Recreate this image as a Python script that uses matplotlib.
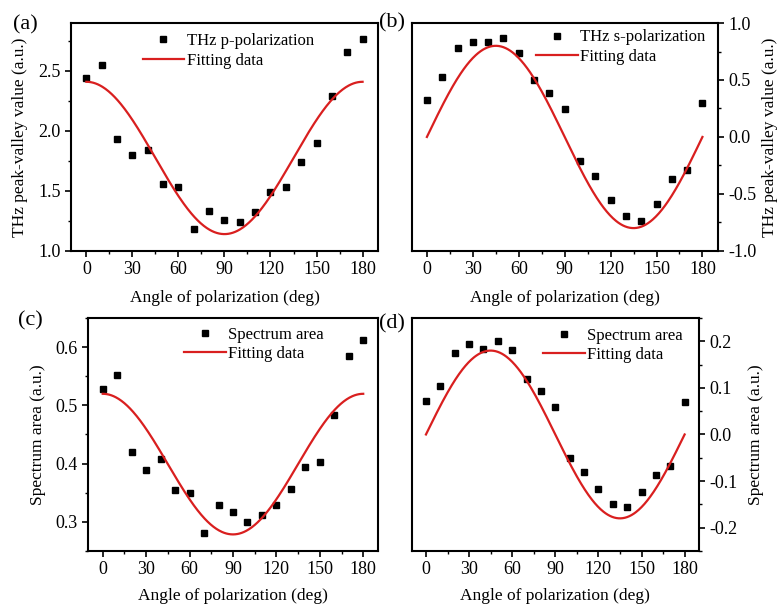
import numpy as np
import matplotlib
matplotlib.use("Agg")
import matplotlib.pyplot as plt
from matplotlib.ticker import MultipleLocator

plt.rcParams['font.family'] = ['Liberation Serif', 'DejaVu Serif']
plt.rcParams['font.size'] = 12
plt.rcParams['axes.unicode_minus'] = False

# polarization angles (deg)
angle = [0, 10, 20, 30, 40, 50, 60, 70, 80, 90, 100, 110, 120, 130, 140, 150, 160, 170, 180]

# (a) THz p-polarization peak-valley
p_pol = [2.44, 2.55, 1.93, 1.80, 1.84, 1.56, 1.53, 1.185, 1.33, 1.26, 1.24, 1.325,
         1.49, 1.53, 1.74, 1.90, 2.29, 2.66, 2.77]
# (b) THz s-polarization peak-valley
s_pol = [0.325, 0.53, 0.78, 0.835, 0.835, 0.87, 0.74, 0.50, 0.39, 0.245, -0.21, -0.345,
         -0.557, -0.69, -0.74, -0.59, -0.37, -0.287, 0.30]
# (c) spectrum area, p
area_p = [0.528, 0.553, 0.419, 0.389, 0.408, 0.355, 0.350, 0.280, 0.328, 0.317, 0.300,
          0.311, 0.328, 0.356, 0.394, 0.402, 0.483, 0.585, 0.613]
# (d) spectrum area, s
area_s = [0.071, 0.103, 0.174, 0.194, 0.184, 0.201, 0.181, 0.120, 0.094, 0.060, -0.050,
          -0.081, -0.116, -0.149, -0.155, -0.124, -0.088, -0.068, 0.069]

# fit parameters: offset + amp*cos^2(theta)  /  amp*sin(2*theta)
fit_a = (1.14, 1.27)
fit_b = 0.80
fit_c = (0.278, 0.242)
fit_d = 0.18

theta = np.linspace(0, 180, 361)
rad = np.deg2rad(theta)
curves = [fit_a[0] + fit_a[1] * np.cos(rad) ** 2,
          fit_b * np.sin(2 * rad),
          fit_c[0] + fit_c[1] * np.cos(rad) ** 2,
          fit_d * np.sin(2 * rad)]

red = '#d91f1f'
fig = plt.figure(figsize=(7.81, 6.06), dpi=100)

panels = [
    # rect, data, label, ylabel, ylim, major, side, legend anchor, ylabel x, xlabel y, letter pos
    ([0.0909, 0.586, 0.393, 0.376], p_pol, 'THz p-polarization', 'THz peak-valley value (a.u.)',
     (1.0, 2.9), 0.5, 'left', (0.233, 0.955), -0.14, -0.171, (0.0327, 0.959), '(a)'),
    ([0.527, 0.586, 0.392, 0.376], s_pol, 'THz s-polarization', 'THz peak-valley value (a.u.)',
     (-1.0, 1.0), 0.5, 'right', (0.406, 0.972), 1.144, -0.171, (0.5022, 0.962), '(b)'),
    ([0.113, 0.0913, 0.3706, 0.3835], area_p, 'Spectrum area', 'Spectrum area (a.u.)',
     (0.25, 0.65), 0.1, 'left', (0.331, 0.963), -0.145, -0.16, (0.0384, 0.470), '(c)'),
    ([0.527, 0.0908, 0.368, 0.3845], area_s, 'Spectrum area', 'Spectrum area (a.u.)',
     (-0.25, 0.25), 0.1, 'right', (0.458, 0.958), 1.172, -0.16, (0.5015, 0.465), '(d)'),
]

for (rect, vals, lab, ylab, ylim, major, side, anchor, ylx, xly, letpos, letter), fit in zip(panels, curves):
    ax = fig.add_axes(rect)
    ax.plot(angle, vals, 's', color='black', markersize=4.5, label=lab)
    ax.plot(theta, fit, color=red, lw=1.6, label='Fitting data')
    ax.set_xlim(-10, 190)
    ax.set_ylim(*ylim)
    ax.xaxis.set_major_locator(MultipleLocator(30))
    ax.xaxis.set_minor_locator(MultipleLocator(15))
    ax.yaxis.set_major_locator(MultipleLocator(major))
    ax.yaxis.set_minor_locator(MultipleLocator(major / 2))
    if side == 'right':
        ax.yaxis.tick_right()
        ax.yaxis.set_label_position('right')
    for s in ax.spines.values():
        s.set_linewidth(1.5)
    ax.tick_params(which='major', direction='out', length=4, width=1.2, labelsize=13)
    ax.tick_params(which='minor', direction='out', length=2.5, width=1.0)
    ax.set_xlabel('Angle of polarization (deg)', fontsize=12.5)
    ax.set_ylabel(ylab, fontsize=12.5)
    ax.xaxis.set_label_coords(0.5, xly)
    ax.yaxis.set_label_coords(ylx, 0.5)
    ax.legend(loc='upper left', bbox_to_anchor=anchor, frameon=False, fontsize=12,
              handlelength=2.5, handletextpad=0.15, labelspacing=0.2, borderpad=0,
              borderaxespad=0)
    fig.text(letpos[0], letpos[1], letter, fontsize=16, ha='center', va='center')

fig.savefig('out.png', dpi=100)
